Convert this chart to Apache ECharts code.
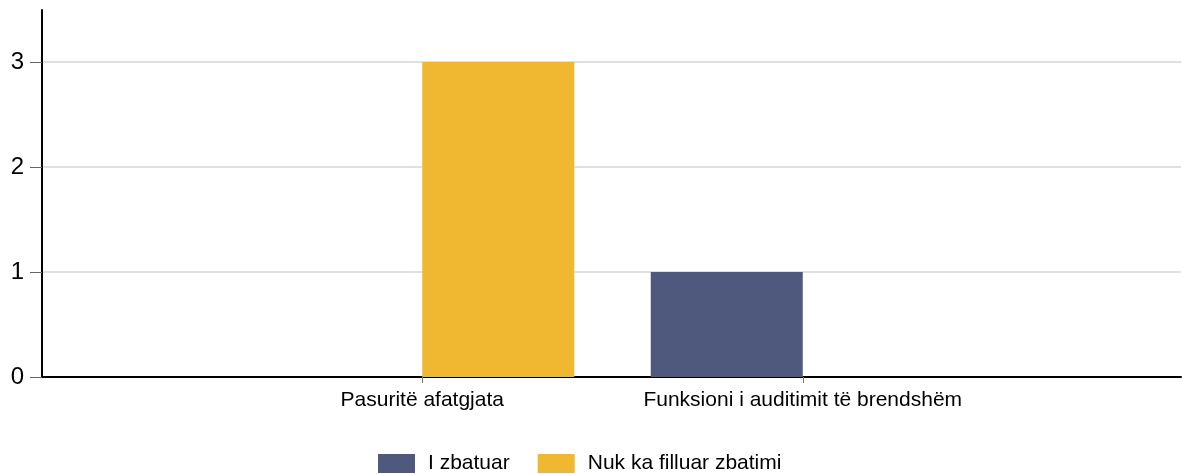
<!DOCTYPE html>
<html>
<head>
<meta charset="utf-8">
<script src="https://cdn.jsdelivr.net/npm/echarts@6/dist/echarts.min.js"></script>
<style>
  html, body { margin: 0; padding: 0; background: #fff; }
  #main { width: 1183px; height: 474px; }
</style>
</head>
<body>
<div id="main"></div>
<script>
// te dhenat
var categories = ['Pasuritë afatgjata', 'Funksioni i auditimit të brendshëm'];
var seriesNames = ['I zbatuar', 'Nuk ka filluar zbatimi'];
var iZbatuar = [0, 1];
var nukKaFilluar = [3, 0];
var yTicks = [0, 1, 2, 3];

var font = 'Liberation Sans, Arial, sans-serif';
var myChart = echarts.init(document.getElementById('main'));

var option = {
    backgroundColor: '#fff',
    animation: false,
    color: ['#4f587d', '#f0b731'],
    legend: {
        top: 453,
        left: 378,
        padding: 0,
        itemWidth: 37,
        itemHeight: 19,
        itemGap: 28,
        icon: 'rect',
        textStyle: { fontFamily: font, fontSize: 21, color: '#000', padding: [0, 0, 0, 8] },
        data: seriesNames
    },
    grid: [
        // rrjeti kryesor: boshti y, vijat ndarese
        { left: 42, right: 2, top: 62, bottom: 97 },
        // rrjeti i shtyllave
        { left: 232, right: 190, top: 62, bottom: 97 },
        // vetem vija e boshtit y deri lart
        { left: 42, right: 2, top: 10, bottom: 97 }
    ],
    xAxis: [
        {
            gridIndex: 0, type: 'value', min: 0, max: 1,
            axisLine: { show: true, lineStyle: { color: '#000', width: 2 } },
            axisTick: { show: false },
            axisLabel: { show: false },
            splitLine: { show: false }
        },
        {
            gridIndex: 1, type: 'category', data: categories,
            axisLine: { show: false },
            axisTick: { show: true, alignWithLabel: true, interval: 0, length: 6, lineStyle: { color: '#777' } },
            axisLabel: { interval: 0, margin: 13, fontFamily: font, fontSize: 21, color: '#000' }
        },
        { gridIndex: 2, type: 'value', show: false }
    ],
    yAxis: [
        {
            gridIndex: 0, type: 'value', min: yTicks[0], max: yTicks[yTicks.length - 1], interval: 1,
            axisLine: { show: true, lineStyle: { color: '#000', width: 2 } },
            axisTick: { show: true, length: 12, lineStyle: { color: '#666' } },
            axisLabel: { margin: 18, fontFamily: font, fontSize: 24, color: '#000' },
            splitLine: { show: true, lineStyle: { color: '#e0e0e0', width: 2 } }
        },
        {
            gridIndex: 1, type: 'value', min: yTicks[0], max: yTicks[yTicks.length - 1], show: false
        },
        {
            gridIndex: 2, type: 'value', min: 0, max: 1,
            axisLine: { show: true, lineStyle: { color: '#000', width: 2 } },
            axisTick: { show: false },
            axisLabel: { show: false },
            splitLine: { show: false }
        }
    ],
    series: [
        {
            name: seriesNames[0], type: 'bar', xAxisIndex: 1, yAxisIndex: 1,
            barWidth: 152, barGap: '0%', data: iZbatuar
        },
        {
            name: seriesNames[1], type: 'bar', xAxisIndex: 1, yAxisIndex: 1,
            barWidth: 152, barGap: '0%', data: nukKaFilluar
        }
    ]
};

myChart.setOption(option);
</script>
</body>
</html>
